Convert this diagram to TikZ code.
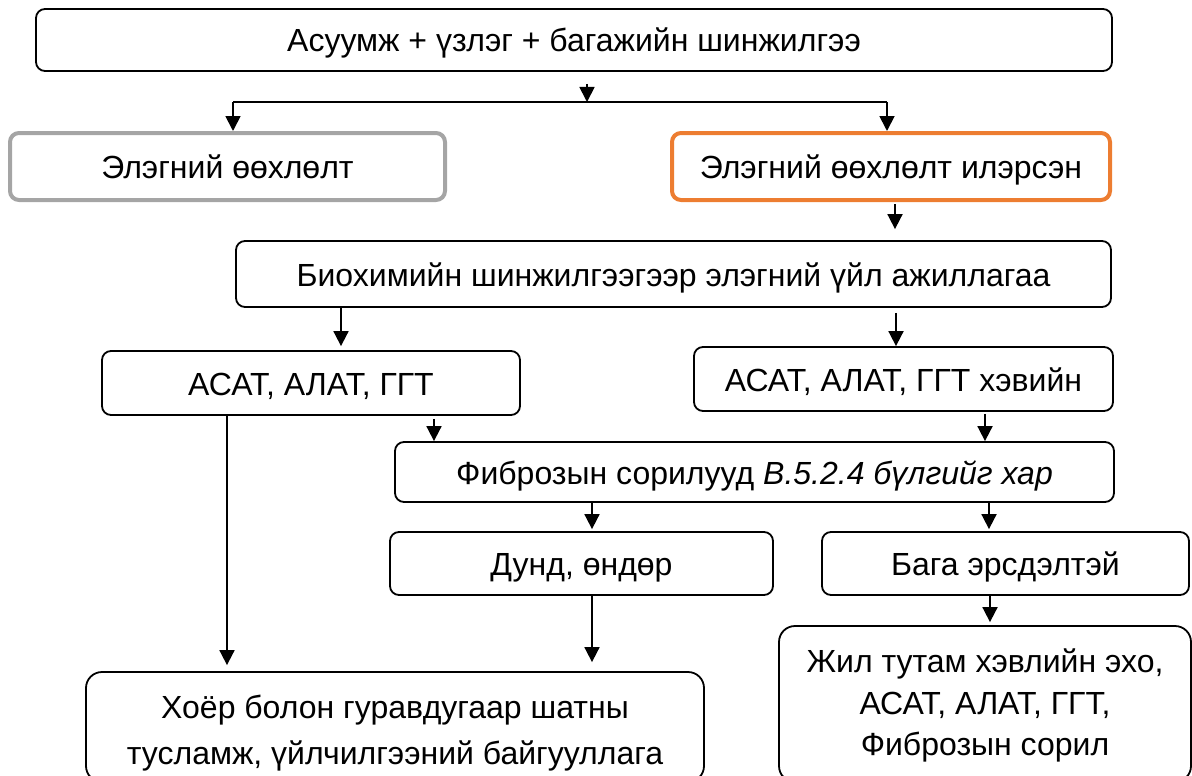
\documentclass[tikz,border=0pt]{standalone}
\usepackage{fontspec}
\setmainfont{Liberation Sans}
\usetikzlibrary{arrows.meta}
\definecolor{boxgray}{HTML}{A5A5A5}
\definecolor{boxorange}{HTML}{ED7D31}
\newcommand{\lowered}[2]{\raisebox{-#1}[\height][\depth]{#2}}
\begin{document}
\begin{tikzpicture}[x=1pt,y=-1pt,
  base/.style={draw=black,line width=1.8pt,rounded corners=9pt,inner sep=0pt,
    font=\fontsize{32}{46}\selectfont},
  box/.style={base,text height=24pt,text depth=0pt},
  bigbox/.style={base,rounded corners=16pt},
  arr/.style={line width=1.8pt,-{Triangle[length=15pt,width=15pt]}},
  ln/.style={line width=1.8pt}]
\useasboundingbox (0,0) rectangle (1192,776);
\begin{scope}
\clip (0,0) rectangle (1192,776);
\node[box,minimum width=1076pt,minimum height=62pt] (top) at (574,40) {Асуумж + үзлэг + багажийн шинжилгээ};
\node[box,draw=boxgray,line width=4pt,minimum width=435pt,minimum height=67pt] (gray) at (227.5,166.5) {Элэгний өөхлөлт};
\node[box,draw=boxorange,line width=4pt,minimum width=438pt,minimum height=67pt] (orange) at (891,166.5) {Элэгний өөхлөлт илэрсэн};
\node[box,minimum width=875pt,minimum height=66pt] (bio) at (673.5,274) {Биохимийн шинжилгээгээр элэгний үйл ажиллагаа};
\node[box,minimum width=418pt,minimum height=64pt] (asatL) at (311,383) {АСАТ, АЛАТ, ГГТ};
\node[box,minimum width=419pt,minimum height=64pt] (asatR) at (903.5,379) {АСАТ, АЛАТ, ГГТ хэвийн};
\node[box,minimum width=719pt,minimum height=60pt] (fib) at (754.5,472) {Фиброзын сорилууд \textit{В.5.2.4 бүлгийг хар}};
\node[box,minimum width=383pt,minimum height=63pt] (dund) at (581.5,563.5) {Дунд, өндөр};
\node[box,minimum width=367pt,minimum height=63pt] (baga) at (1005.5,563.5) {Бага эрсдэлтэй};
\node[bigbox,minimum width=618pt,minimum height=110pt] (botL) at (395,727)
  {\lowered{5pt}{\begin{tabular}{@{}c@{}}Хоёр болон гуравдугаар шатны\\тусламж, үйлчилгээний байгууллага\end{tabular}}};
\node[bigbox,minimum width=412pt,minimum height=156pt,font=\fontsize{32}{41.5}\selectfont] (botR) at (985,704)
  {\lowered{2pt}{\begin{tabular}{@{}c@{}}Жил тутам хэвлийн эхо,\\АСАТ, АЛАТ, ГГТ,\\Фиброзын сорил\end{tabular}}};
\coordinate (jm) at (587,102);
\coordinate (jl) at (233,102);
\coordinate (jr) at (887,102);
\draw[arr,shorten <=12pt] (top.south -| jm) -- (jm);
\draw[ln] (jl) -- (jr);
\draw[arr] (jl) -- (jl |- gray.north);
\draw[arr] (jr) -- (jr |- orange.north);
\draw[arr,shorten <=2pt,shorten >=11pt] ([xshift=4pt]orange.south) -- ([xshift=4pt]orange.south |- bio.north);
\draw[arr,shorten >=4pt] (bio.south -| 341,0) -- (asatL.north -| 341,0);
\draw[arr,shorten <=5pt] (bio.south -| 896,0) -- (asatR.north -| 896,0);
\draw[arr,shorten >=6pt] (asatL.south -| 227,0) -- (botL.north -| 227,0);
\draw[arr,shorten <=3pt] (asatL.south -| 434,0) -- (fib.north -| 434,0);
\draw[arr,shorten <=2pt] (asatR.south -| 985,0) -- (fib.north -| 985,0);
\draw[arr,shorten >=2pt] (fib.south -| 592,0) -- (dund.north -| 592,0);
\draw[arr,shorten >=2pt] (fib.south -| 989,0) -- (baga.north -| 989,0);
\draw[arr,shorten >=9pt] (dund.south -| 592,0) -- (botL.north -| 592,0);
\draw[arr,shorten >=3pt] (baga.south -| 990,0) -- (botR.north -| 990,0);
\end{scope}
\end{tikzpicture}
\end{document}
